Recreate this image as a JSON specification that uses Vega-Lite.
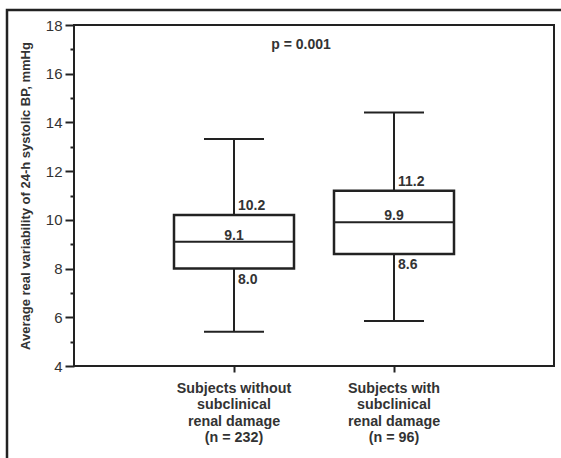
{
  "$schema": "https://vega.github.io/schema/vega-lite/v6.json",
  "width": 480,
  "height": 341,
  "autosize": "none",
  "padding": {"left": 74, "top": 25, "right": 7, "bottom": 92},
  "background": "white",
  "config": {
    "view": {"stroke": "#222", "strokeWidth": 2},
    "font": "Liberation Sans",
    "axis": {"domainColor": "#222", "domainWidth": 2, "tickColor": "#222", "tickWidth": 2, "labelColor": "#333", "titleColor": "#333", "grid": false},
    "legend": {"strokeWidth": 2.5}
  },
  "title": {"text": "p = 0.001", "fontSize": 14, "fontWeight": "bold", "color": "#333", "orient": "top", "anchor": "middle", "offset": -54, "dx": -13, "baseline": "alphabetic"},
  "data": {
    "values": [
      {"group": "Subjects without|subclinical|renal damage|(n = 232)", "lo": 5.41, "q1": 8.0, "med": 9.1, "q3": 10.2, "hi": 13.32},
      {"group": "Subjects with|subclinical|renal damage|(n = 96)", "lo": 5.85, "q1": 8.6, "med": 9.9, "q3": 11.2, "hi": 14.41}
    ]
  },
  "encoding": {
    "x": {
      "field": "group", "type": "nominal", "sort": null,
      "scale": {"paddingInner": 0.25, "paddingOuter": 0.625},
      "axis": {"title": null, "labelAngle": 0, "labelExpr": "split(datum.value, '|')", "labelFontSize": 14.3, "labelFontWeight": "bold", "labelLineHeight": 16.5, "tickSize": 6, "labelPadding": 9, "domain": false}
    }
  },
  "layer": [
    {
      "mark": {"type": "rule", "color": "#222", "strokeWidth": 2},
      "encoding": {
        "y": {"field": "lo", "type": "quantitative", "scale": {"domain": [4, 18], "nice": false},
          "axis": {"orient": "left", "title": "Average real variability of 24-h systolic BP, mmHg", "titleFontSize": 13, "titleFontWeight": "bold", "titlePadding": 13, "values": [4, 6, 8, 10, 12, 14, 16, 18], "labelFontSize": 15, "tickSize": 9, "labelPadding": 3, "domain": false}},
        "y2": {"field": "hi"}
      }
    },
    {
      "mark": {"type": "bar", "fill": "white", "stroke": "#222", "strokeWidth": 2.5, "width": {"band": 1}},
      "encoding": {"y": {"field": "q1", "type": "quantitative", "axis": null}, "y2": {"field": "q3"}}
    },
    {
      "mark": {"type": "tick", "color": "#222", "opacity": 1, "thickness": 2, "size": 120, "orient": "horizontal"},
      "encoding": {"y": {"field": "med", "type": "quantitative", "axis": null}}
    },
    {
      "mark": {"type": "tick", "color": "#222", "opacity": 1, "thickness": 2, "size": 60, "orient": "horizontal"},
      "encoding": {"y": {"field": "lo", "type": "quantitative", "axis": null}}
    },
    {
      "mark": {"type": "tick", "color": "#222", "opacity": 1, "thickness": 2, "size": 60, "orient": "horizontal"},
      "encoding": {"y": {"field": "hi", "type": "quantitative", "axis": null}}
    },
    {
      "mark": {"type": "text", "align": "left", "baseline": "alphabetic", "dx": 4, "dy": -5, "fontSize": 14, "fontWeight": "bold", "color": "#333"},
      "encoding": {"y": {"field": "q3", "type": "quantitative", "axis": null}, "text": {"field": "q3", "type": "quantitative", "format": ".1f"}}
    },
    {
      "mark": {"type": "text", "align": "left", "baseline": "top", "dx": 4, "dy": 4, "fontSize": 14, "fontWeight": "bold", "color": "#333"},
      "encoding": {"y": {"field": "q1", "type": "quantitative", "axis": null}, "text": {"field": "q1", "type": "quantitative", "format": ".1f"}}
    },
    {
      "mark": {"type": "text", "align": "center", "baseline": "alphabetic", "dx": 0, "dy": -2, "fontSize": 14, "fontWeight": "bold", "color": "#333"},
      "encoding": {"y": {"field": "med", "type": "quantitative", "axis": null}, "text": {"field": "med", "type": "quantitative", "format": ".1f"}}
    },
    {
      "mark": {"type": "tick", "opacity": 0},
      "encoding": {
        "y": {"field": "med", "type": "quantitative", "axis": {"orient": "left", "values": [5, 7, 9, 11, 13, 15, 17], "labels": false, "tickSize": 4, "domain": false, "title": null}},
        "color": {"datum": "frame", "scale": {"range": ["#222"]},
          "legend": {"orient": "none", "legendX": -67, "legendY": -15, "padding": 320, "strokeColor": "#222", "title": null, "symbolOpacity": 0, "symbolStrokeWidth": 0, "labelOpacity": 0, "labelExpr": "''"}}
      }
    }
  ],
  "resolve": {"axis": {"y": "independent"}}
}
